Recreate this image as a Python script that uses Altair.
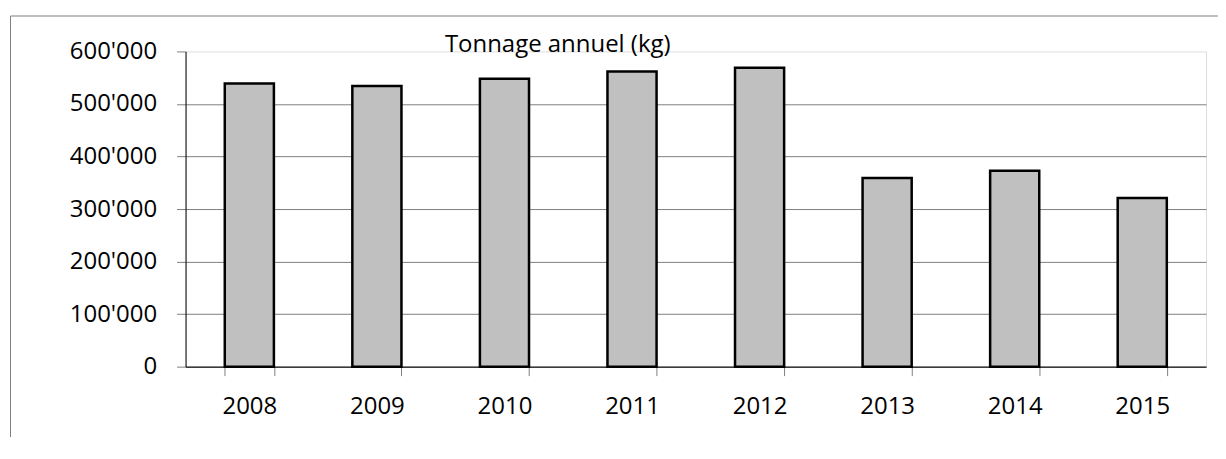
import altair as alt
import pandas as pd

years = ["2008", "2009", "2010", "2011", "2012", "2013", "2014", "2015"]
tonnage = [539000, 534000, 548000, 562000, 569000, 359000, 373000, 321000]
y_ticks = [0, 100000, 200000, 300000, 400000, 500000, 600000]
title_text = ["Tonnage annuel (kg)"]

df = pd.DataFrame({"year": years, "tonnage": tonnage})

W, H = 1023, 316
FONT = "Open Sans"

bars = alt.Chart(df).mark_bar(color="#C0C0C0", stroke="#000000", strokeWidth=2.5).encode(
    x=alt.X(
        "year:N", sort=years, title=None,
        scale=alt.Scale(paddingInner=0.615, paddingOuter=0.3075),
        axis=alt.Axis(
            labelAngle=0, tickBand="extent", domainColor="#000000", domainWidth=1,
            tickColor="#808080", tickSize=9, labelPadding=19, labelFontSize=24,
            labelColor="#000000", grid=False, labelFont=FONT,
        ),
    ),
    y=alt.Y(
        "tonnage:Q", title=None,
        scale=alt.Scale(domain=[0, 600000], nice=False),
        axis=alt.Axis(
            values=y_ticks,
            labelExpr="replace(format(datum.value, ','), ',', \"'\")",
            gridColor="#808080",
            gridOpacity={"condition": {"test": "datum.value === 600000", "value": 0}, "value": 1},
            domainColor="#000000", domainWidth=1,
            tickColor="#808080", tickSize=9, labelPadding=20, labelFontSize=24,
            labelColor="#000000", labelFont=FONT,
        ),
    ),
)

frame_df = pd.DataFrame({"k": [0]})
top_line = alt.Chart(frame_df).mark_rule(stroke="#808080", strokeWidth=1).encode(
    x=alt.value(-175.5), x2=alt.value(W + 60), y=alt.value(-35.5),
)
left_line = alt.Chart(frame_df).mark_rule(stroke="#808080", strokeWidth=1).encode(
    x=alt.value(-175.5), y=alt.value(-35.5), y2=alt.value(H + 140),
)

title = alt.Chart(pd.DataFrame({"t": title_text})).mark_text(
    align="left", baseline="alphabetic", fontSize=24, font=FONT, color="#000000"
).encode(
    text="t:N", x=alt.value(260), y=alt.value(0.5),
)

chart = alt.layer(top_line, left_line, bars, title).properties(
    width=W, height=H,
    padding={"left": 178, "top": 43, "right": 12, "bottom": 70},
    autosize=alt.AutoSizeParams(type="none"),
).configure_view(stroke="transparent").configure(font=FONT)

chart.save("out.html", embed_options={"renderer": "svg", "actions": False})
